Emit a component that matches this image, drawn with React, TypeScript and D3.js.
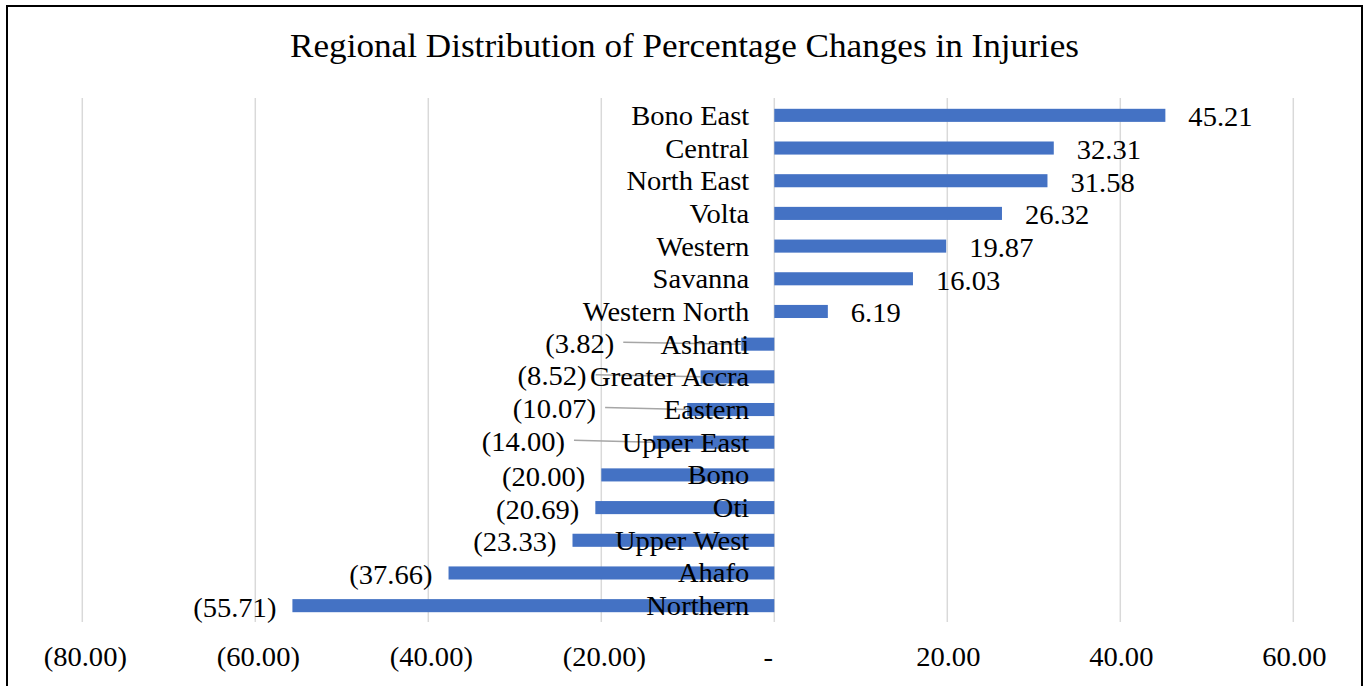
import React from "react";
import * as d3 from "d3";

const title = "Regional Distribution of Percentage Changes in Injuries";
const regions = [
  "Bono East", "Central", "North East", "Volta", "Western", "Savanna", "Western North",
  "Ashanti", "Greater Accra", "Eastern", "Upper East", "Bono", "Oti", "Upper West", "Ahafo", "Northern",
];
const changes = [
  45.21, 32.31, 31.58, 26.32, 19.87, 16.03, 6.19,
  -3.82, -8.52, -10.07, -14.0, -20.0, -20.69, -23.33, -37.66, -55.71,
];
// labels moved manually in the original (value at which the label ends), with leader lines
const movedLabelEnds: Record<string, number> = {
  "Ashanti": -18.5,
  "Greater Accra": -21.7,
  "Eastern": -20.6,
  "Upper East": -24.2,
};
const xTicks = [-80, -60, -40, -20, 0, 20, 40, 60];

const W = 1369;
const H = 686;
const FONT = "'Liberation Serif', 'Times New Roman', serif";
const SX = 1.05;

const fmt = (v: number) => {
  if (v === 0) return "-";
  const s = d3.format(",.2f")(Math.abs(v));
  return v < 0 ? `(${s})` : s;
};

function T({ x, y, anchor, size, children }: { x: number; y: number; anchor: "start" | "middle" | "end"; size: number; children: React.ReactNode }) {
  return (
    <g transform={`translate(${x},${y}) scale(${SX},1)`}>
      <text x={0} y={0} textAnchor={anchor} fontFamily={FONT} fontSize={size} fill="#000">
        {children}
      </text>
    </g>
  );
}

export default function App() {
  const x = d3.scaleLinear().domain([-80, 60]).range([82.3, 1293.3]);
  const y = d3.scaleBand<string>().domain(regions).range([99, 622]).paddingInner(0.6).paddingOuter(0.3);
  const bw = y.bandwidth();
  const x0 = x(0);
  const FS = 27.2;

  return (
    <svg width={W} height={H} style={{ position: "absolute", left: 0, top: 0, display: "block", background: "#fff" }}>
      <rect x={7} y={6} width={1355} height={720} fill="#fff" stroke="#000" strokeWidth={2} />
      <T x={W / 2} y={56.5} anchor="middle" size={33.5}>{title}</T>
      {xTicks.map((t) => (
        <line key={"g" + t} x1={x(t)} x2={x(t)} y1={98} y2={622} stroke="#d9d9d9" strokeWidth={1.5} />
      ))}
      {regions.map((r, i) => {
        const v = changes[i];
        return (
          <rect key={"b" + r} x={Math.min(x(v), x0)} y={y(r)!} width={Math.abs(x(v) - x0)} height={bw} fill="#4472C4" />
        );
      })}
      {regions.map((r, i) => {
        const v = changes[i];
        const cy = y(r)! + bw / 2;
        const end = movedLabelEnds[r];
        if (end === undefined) return null;
        const lx = x(end) + 9;
        return (
          <line key={"l" + r} x1={lx} y1={cy - 2} x2={x(v)} y2={cy} stroke="#a6a6a6" strokeWidth={1.5} />
        );
      })}
      {regions.map((r) => {
        const cy = y(r)! + bw / 2;
        return (
          <T key={"c" + r} x={x0 - 25} y={cy + 9.5} anchor="end" size={FS}>{r}</T>
        );
      })}
      {regions.map((r, i) => {
        const v = changes[i];
        const cy = y(r)! + bw / 2;
        const end = movedLabelEnds[r];
        if (end !== undefined) {
          return <T key={"v" + r} x={x(end)} y={cy + 8.5} anchor="end" size={FS}>{fmt(v)}</T>;
        }
        return v >= 0 ? (
          <T key={"v" + r} x={x(v) + 23} y={cy + 11} anchor="start" size={FS}>{fmt(v)}</T>
        ) : (
          <T key={"v" + r} x={x(v) - 16} y={cy + 11} anchor="end" size={FS}>{fmt(v)}</T>
        );
      })}
      {xTicks.map((t) => (
        <T key={"t" + t} x={t === 0 ? x(t) - 6 : x(t) + (t < 0 ? 3 : 1)} y={666} anchor="middle" size={FS}>
          {fmt(t)}
        </T>
      ))}
    </svg>
  );
}
